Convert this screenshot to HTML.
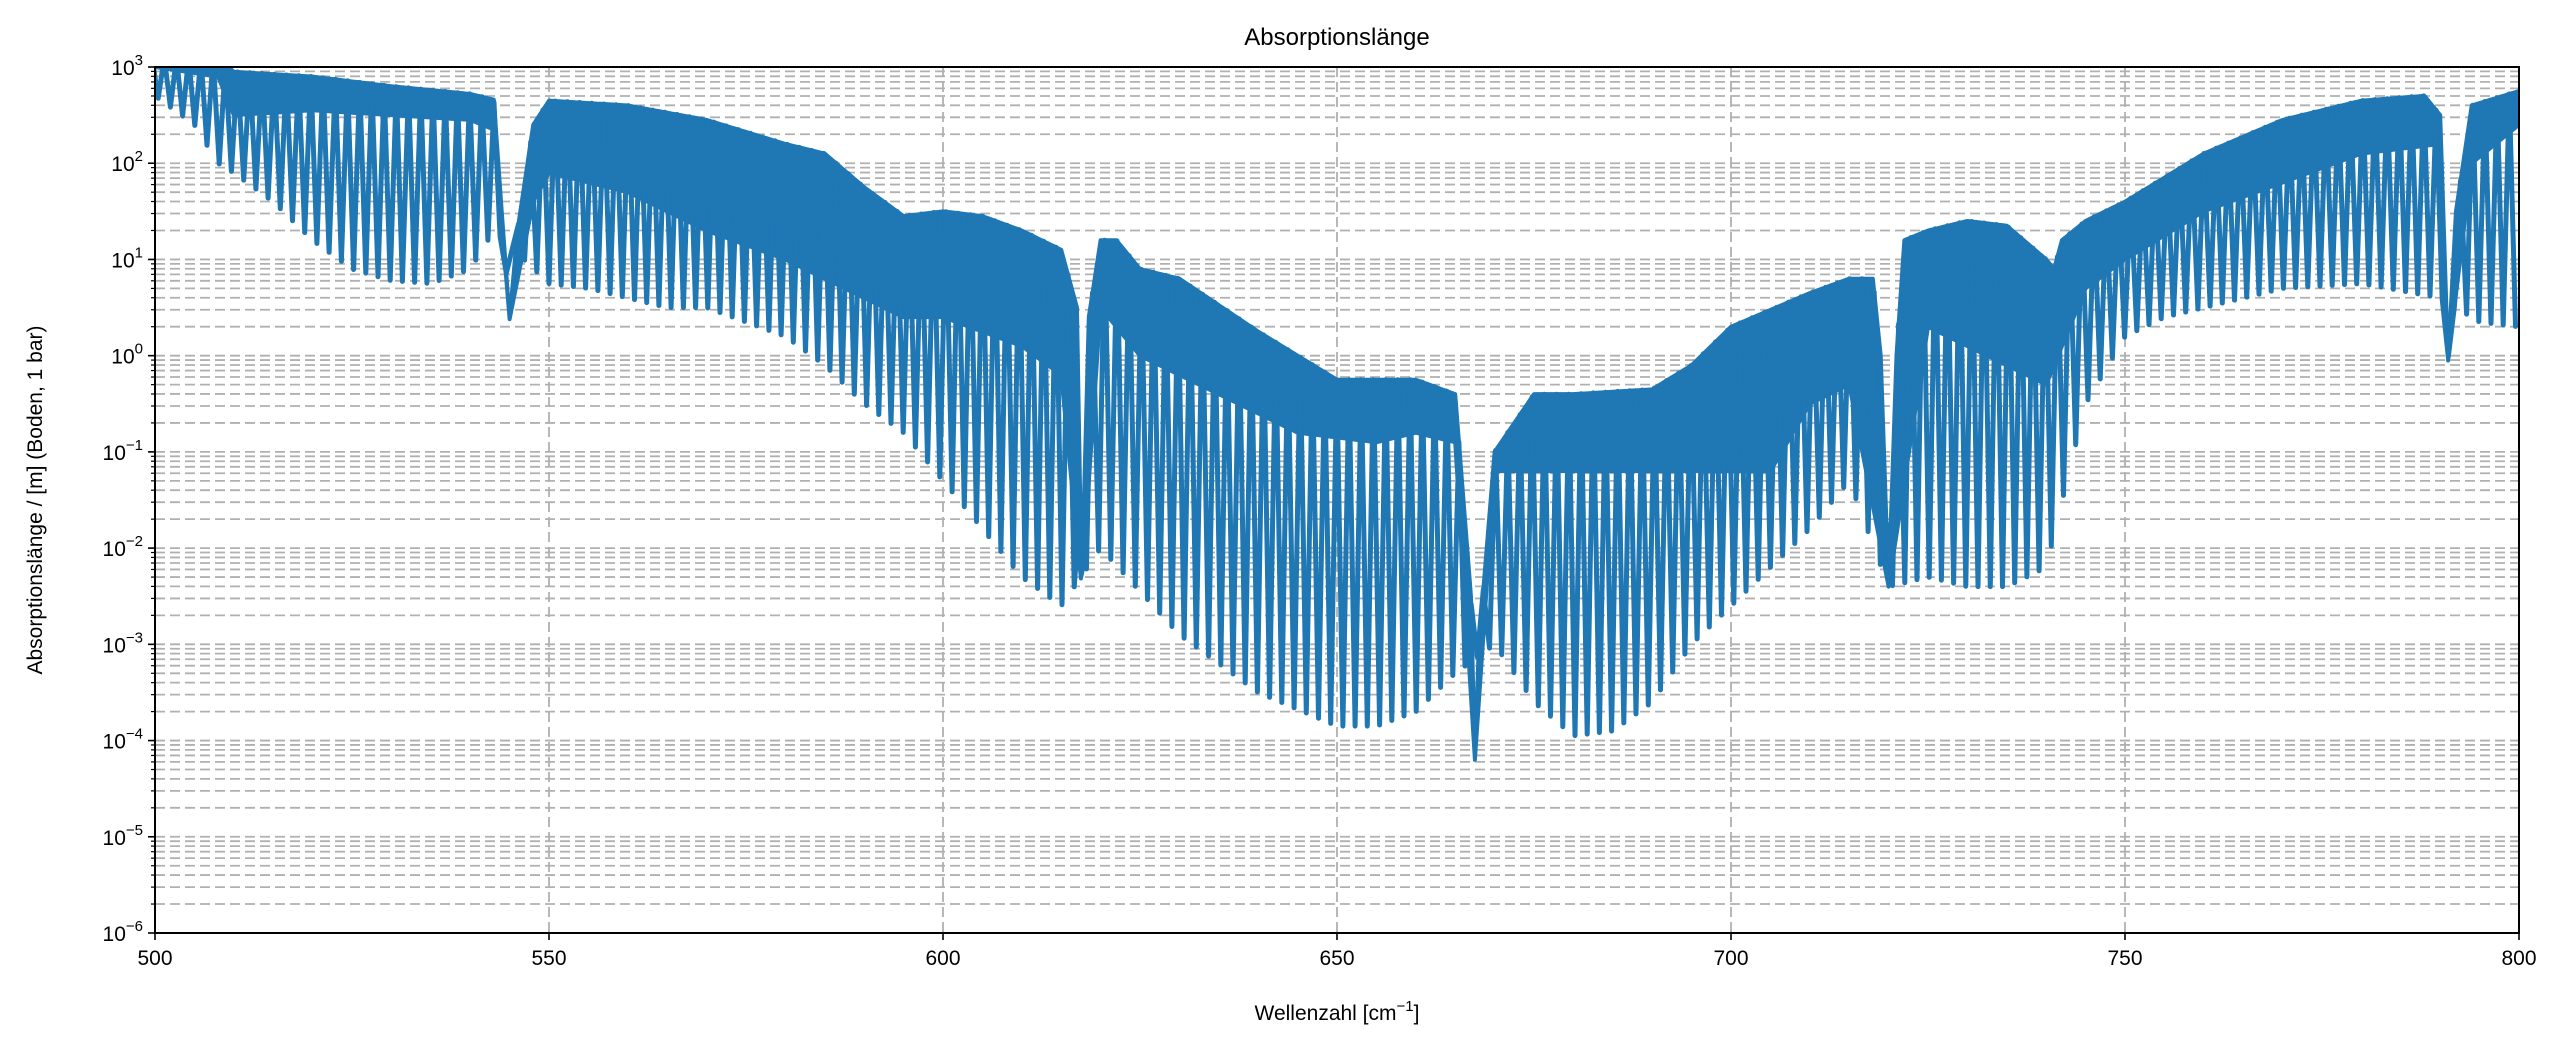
<!DOCTYPE html>
<html><head><meta charset="utf-8">
<style>
html,body{margin:0;padding:0;background:#fff;}
svg{display:block;font-family:"Liberation Sans","DejaVu Sans",sans-serif;}
</style></head>
<body>
<svg id="chart" width="2560" height="1048" viewBox="0 0 2560 1048" xmlns="http://www.w3.org/2000/svg">
<rect width="2560" height="1048" fill="#fff"/>
<defs><clipPath id="clip"><rect x="155" y="67" width="2364" height="866"/></clipPath></defs>
<g id="grid"></g>
<g id="data" clip-path="url(#clip)"></g>
<rect x="155" y="67" width="2364" height="866" fill="none" stroke="#000" stroke-width="2"/>
<g id="axes"></g>
<text x="1337" y="45" font-size="24" text-anchor="middle">Absorptionslänge</text>
<text x="1337" y="1020" font-size="21" text-anchor="middle">Wellenzahl [cm<tspan dy="-9" font-size="15">−1</tspan><tspan dy="9">]</tspan></text>
<text transform="translate(42,500) rotate(-90)" font-size="21" text-anchor="middle">Absorptionslänge / [m] (Boden, 1 bar)</text>
</svg>
<script>
// Data arrays (wavenumber in cm^-1, values as log10 of absorption length in m)
const xTicks = [500, 550, 600, 650, 700, 750, 800];
const yDecades = [-6, -5, -4, -3, -2, -1, 0, 1, 2, 3];
const topX = [500,508,510,520,530,540,543,544,545,546,548,550,560,570,580,585,590,595,600,605,610,615,617,617.6,618.5,620,622,625,630,640,650,660,665,667,667.5,668,670,675,680,690,695,700,710,715,718,719,720,721,722,725,730,735,740,741,742,745,750,760,770,780,788,790,791,792,794,800];
const topV = [3.1,3.1,2.95,2.9,2.8,2.72,2.66,1.5,0.38,1.3,2.4,2.65,2.6,2.45,2.2,2.1,1.75,1.45,1.5,1.45,1.3,1.1,0.5,-2.4,0.4,1.2,1.2,0.9,0.8,0.25,-0.25,-0.25,-0.4,-2.5,-4.2,-3.0,-1.0,-0.4,-0.4,-0.35,-0.1,0.3,0.65,0.8,0.8,0.0,-2.4,0.0,1.2,1.3,1.4,1.35,1.0,0.9,1.2,1.4,1.6,2.1,2.45,2.65,2.7,2.5,-0.05,1.5,2.6,2.75];
const midX = [500,508,510,520,540,543,545,548,550,560,570,580,590,595,600,610,615,617.6,620,625,635,645,655,660,665,667.5,670,680,700,705,710,715,720,725,735,740,745,750,760,770,780,790,791,794,800];
const midV = [3.0,2.9,2.5,2.55,2.45,2.35,0.38,1.6,1.9,1.7,1.3,1.0,0.6,0.4,0.4,0.1,-0.2,-2.4,0.5,0.0,-0.4,-0.8,-0.9,-0.8,-0.9,-4.2,-1.2,-1.2,-1.2,-1.2,-0.5,-0.3,-2.4,0.3,-0.1,-0.3,0.7,1.0,1.5,1.8,2.1,2.2,-0.05,2.0,2.4];
const dipX = [500,505,508,510,515,520,525,530,535,540,543,550,555,560,565,570,575,580,585,590,595,600,605,610,615,620,630,640,650,655,660,665,670,675,680,685,690,695,700,705,710,715,720,725,730,735,740,745,750,755,760,770,780,790,795,800];
const dipV = [2.7,2.4,2.0,1.9,1.6,1.2,0.9,0.78,0.75,0.9,1.3,0.75,0.7,0.6,0.5,0.5,0.35,0.2,-0.1,-0.5,-0.8,-1.3,-1.8,-2.3,-2.6,-2.0,-2.9,-3.5,-3.85,-3.85,-3.7,-3.3,-3.0,-3.6,-3.95,-3.9,-3.6,-3.0,-2.6,-2.2,-1.8,-1.3,-2.4,-2.3,-2.4,-2.4,-2.2,-0.5,0.2,0.4,0.5,0.7,0.75,0.6,0.35,0.3];
const lineSpacing = 1.55;

const L=155,R=2519,T=67,B=933;
const xs = v => L + (v-500)/(800-500)*(R-L);
const ys = lg => T + (3-lg)/9*(B-T);
function interp(X,V,x){
  if(x<=X[0])return V[0];
  for(let i=1;i<X.length;i++){ if(x<=X[i]){const t=(x-X[i-1])/(X[i]-X[i-1]);return V[i-1]+t*(V[i]-V[i-1]);} }
  return V[V.length-1];
}
const NS='http://www.w3.org/2000/svg';
function mk(tag,attrs,parent){const e=document.createElementNS(NS,tag);for(const k in attrs)e.setAttribute(k,attrs[k]);parent.appendChild(e);return e;}
const grid=document.getElementById('grid'), axes=document.getElementById('axes'), data=document.getElementById('data');

yDecades.forEach(d=>{
  for(let m=1;m<=9;m++){
    if(d===3 && m>1) continue;
    const y=ys(d+Math.log10(m));
    if(!(d===-6&&m===1) && !(d===3)){
      const g=mk('line',{x1:L,x2:R,y1:y,y2:y,stroke:'#b0b0b0','stroke-width':1.8,'stroke-dasharray':'10,5'},grid);
      
      
    }
    const tk=mk('line',{x1:L-(m===1?7:4),x2:L,y1:y,y2:y,stroke:'#000','stroke-width':m===1?1.6:1.2},axes);
    
    
  }
  const t=mk('text',{x:L-12,y:ys(d)+8,'font-size':21,'text-anchor':'end'},axes);
  
  
  t.innerHTML='10<tspan dy="-10" font-size="15">'+(d<0?'−'+(-d):d)+'</tspan>';
});
xTicks.forEach(v=>{
  const x=xs(v);
  if(v>500&&v<800){
    const g=mk('line',{x1:x,x2:x,y1:T,y2:B,stroke:'#b0b0b0','stroke-width':1.8,'stroke-dasharray':'10,5'},grid);
    
    
  }
  const tk=mk('line',{x1:x,x2:x,y1:B,y2:B+7,stroke:'#000','stroke-width':1.6},axes);
  
  
  const t=mk('text',{x:x,y:B+32,'font-size':21,'text-anchor':'middle'},axes);
  
  
  t.textContent=v;
});

let pts=[];
for(let x=500;x<=800;x+=0.25) pts.push(xs(x)+','+ys(interp(topX,topV,x)));
for(let x=800;x>=500;x-=0.25) pts.push(xs(x)+','+ys(interp(midX,midV,x)));
const band=mk('polygon',{points:pts.join(' '),fill:'#1f77b4',stroke:'#1f77b4','stroke-width':4,'stroke-linejoin':'round'},data);



let d='';
for(let c=500.4;c<=800.5;c+=lineSpacing){
  const a=c-lineSpacing/2;
  d+=(d?'L':'M')+xs(a).toFixed(1)+','+ys(interp(topX,topV,a)).toFixed(1);
  d+='L'+xs(c).toFixed(1)+','+ys(interp(dipX,dipV,c)).toFixed(1);
}
const line=mk('path',{d:d,fill:'none',stroke:'#1f77b4','stroke-width':5,'stroke-linejoin':'round','stroke-linecap':'round'},data);


</script>
</body></html>
